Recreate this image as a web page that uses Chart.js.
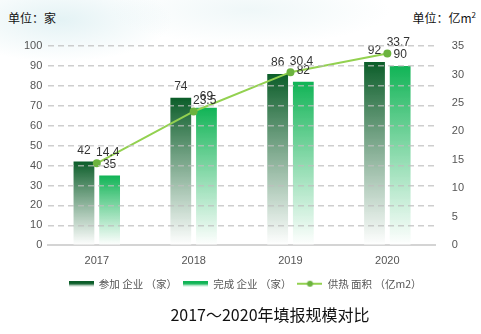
<!DOCTYPE html>
<html>
<head>
<meta charset="utf-8">
<script src="https://cdn.jsdelivr.net/npm/chart.js@4/dist/chart.umd.min.js"></script>
<style>
  html, body { margin: 0; padding: 0; }
  body {
    width: 481px; height: 334px; position: relative; overflow: hidden;
    background:
      radial-gradient(ellipse 160px 60px at 60px 20px, rgba(205,232,236,0.55), rgba(255,255,255,0) 70%),
      radial-gradient(ellipse 200px 50px at 250px 10px, rgba(220,238,240,0.45), rgba(255,255,255,0) 70%),
      #fff;
    font-family: "Liberation Sans", "Noto Sans CJK SC", sans-serif;
  }
  #wrap { position: absolute; left: 0; top: 0; width: 481px; height: 334px; }
  .unit { position: absolute; top: 9px; font-size: 12px; color: #111; font-family: "Noto Sans CJK SC", sans-serif; }
  #unitL { left: 8px; }
  #unitR { right: 5px; }
  #title { position: absolute; left: 0; width: 540px; top: 302px; text-align: center; font-size: 16px; color: #111; font-family: "Noto Sans CJK SC", sans-serif; }
</style>
</head>
<body>
<div class="unit" id="unitL">单位：家</div>
<div class="unit" id="unitR">单位：亿m<sup style="font-size:8px">2</sup></div>
<div id="wrap"><canvas id="chart" width="481" height="334"></canvas></div>
<div id="title">2017～2020年填报规模对比</div>
<script>
// categories and series
const years = ['2017', '2018', '2019', '2020'];
const joined = [42, 74, 86, 92];        // 参加企业（家）
const finished = [35, 69, 82, 90];      // 完成企业（家）
const heatArea = [14.4, 23.5, 30.4, 33.7]; // 供热面积（亿m2）
const leftTicks = [0, 10, 20, 30, 40, 50, 60, 70, 80, 90, 100];
const rightTicks = [0, 5, 10, 15, 20, 25, 30, 35];

const DARK = '#0b5d29';
const LIGHT = '#11b456';
const LINE = '#93d150';
const DOT = '#6cb33f';

// vertical fade for each bar, from full colour at the top to white at the base
function barFade(top) {
  return (ctx) => {
    const chart = ctx.chart;
    if (!chart.chartArea || ctx.type !== 'data') return top;
    const y = chart.scales.y;
    const yTop = y.getPixelForValue(ctx.raw);
    const yBase = y.getPixelForValue(0);
    const g = chart.ctx.createLinearGradient(0, yTop, 0, yBase);
    g.addColorStop(0, top);
    g.addColorStop(1, 'rgba(255,255,255,0.9)');
    return g;
  };
}

// small images for the legend swatches
function swatch(color) {
  const c = document.createElement('canvas');
  c.width = 25; c.height = 6;
  const x = c.getContext('2d');
  const g = x.createLinearGradient(0, 0, 0, 6);
  g.addColorStop(0, color);
  g.addColorStop(0.5, color);
  g.addColorStop(1, 'rgba(255,255,255,0.6)');
  x.fillStyle = g;
  x.fillRect(0, 0, 25, 6);
  return c;
}
function lineSwatch() {
  const c = document.createElement('canvas');
  c.width = 25; c.height = 8;
  const x = c.getContext('2d');
  x.strokeStyle = LINE; x.lineWidth = 2;
  x.beginPath(); x.moveTo(0, 4); x.lineTo(25, 4); x.stroke();
  x.fillStyle = DOT;
  x.beginPath(); x.arc(12.5, 4, 3, 0, Math.PI * 2); x.fill();
  return c;
}
const legendIcons = [swatch(DARK), swatch(LIGHT), lineSwatch()];

// value labels above bars and points
const valueLabels = {
  id: 'valueLabels',
  afterDatasetsDraw(chart) {
    const ctx = chart.ctx;
    ctx.save();
    ctx.font = '12px "Liberation Sans", sans-serif';
    ctx.fillStyle = '#333';
    ctx.textAlign = 'center';
    ctx.textBaseline = 'bottom';
    chart.data.datasets.forEach((ds, i) => {
      const meta = chart.getDatasetMeta(i);
      meta.data.forEach((el, j) => {
        const v = ds.data[j];
        if (ds.type === 'line') {
          ctx.fillText(v.toFixed(1), el.x + 11, el.y - 5);
        } else {
          ctx.fillText(String(v), el.x, el.y - 5);
        }
      });
    });
    ctx.restore();
  }
};

// push the legend row a little lower than the default layout puts it
const legendNudge = {
  id: 'legendNudge',
  afterLayout(chart) {
    if (chart.legend) {
      chart.legend.top += 4;
      chart.legend.bottom += 4;
    }
  }
};

new Chart(document.getElementById('chart'), {
  data: {
    labels: years,
    datasets: [
      {
        type: 'line',
        label: '供热 面积 （亿m2）',
        data: heatArea,
        yAxisID: 'y2',
        borderColor: LINE,
        borderWidth: 2,
        backgroundColor: DOT,
        pointBackgroundColor: DOT,
        pointBorderColor: DOT,
        pointRadius: 3,
        tension: 0,
        order: 0
      },
      {
        type: 'bar',
        label: '参加 企业 （家）',
        data: joined,
        yAxisID: 'y',
        backgroundColor: barFade(DARK),
        barPercentage: 0.81,
        categoryPercentage: 0.53,
        order: 1
      },
      {
        type: 'bar',
        label: '完成 企业 （家）',
        data: finished,
        yAxisID: 'y',
        backgroundColor: barFade(LIGHT),
        barPercentage: 0.81,
        categoryPercentage: 0.53,
        order: 2
      }
    ]
  },
  options: {
    responsive: false,
    animation: false,
    layout: { padding: { top: 46, left: 18, right: 9, bottom: 39 } },
    plugins: {
      tooltip: { enabled: false },
      title: { display: false },
      legend: {
        position: 'bottom',
        labels: {
          usePointStyle: true,
          pointStyleWidth: 25,
          padding: 6,
          color: '#555',
          font: { size: 10.5, family: '"Noto Sans CJK SC", sans-serif' },
          generateLabels(chart) {
            const order = [1, 2, 0];
            return order.map((di, k) => ({
              text: chart.data.datasets[di].label,
              pointStyle: legendIcons[k],
              fillStyle: 'transparent',
              strokeStyle: 'transparent',
              lineWidth: 0,
              fontColor: '#555',
              datasetIndex: di
            }));
          }
        }
      }
    },
    scales: {
      x: {
        grid: { display: false },
        border: { display: true, color: '#d4d4d4', width: 2 },
        ticks: { color: '#555', font: { size: 11 }, padding: 1 }
      },
      y: {
        position: 'left',
        min: 0, max: 100,
        afterBuildTicks(axis) { axis.ticks = leftTicks.map(v => ({ value: v })); },
        grid: {
          color: (c) => c.tick && c.tick.value === 0 ? 'rgba(0,0,0,0)' : 'rgba(190,190,190,0.75)',
          lineWidth: 1.5,
          drawTicks: false,
          z: 1
        },
        border: { display: false, dash: [6, 4] },
        ticks: { color: '#555', font: { size: 11 }, padding: 6 }
      },
      y2: {
        position: 'right',
        min: 0, max: 35,
        afterBuildTicks(axis) { axis.ticks = rightTicks.map(v => ({ value: v })); },
        grid: { display: false },
        border: { display: false },
        ticks: { color: '#555', font: { size: 11 }, padding: 8 }
      }
    }
  },
  plugins: [valueLabels, legendNudge]
});
</script>
</body>
</html>
